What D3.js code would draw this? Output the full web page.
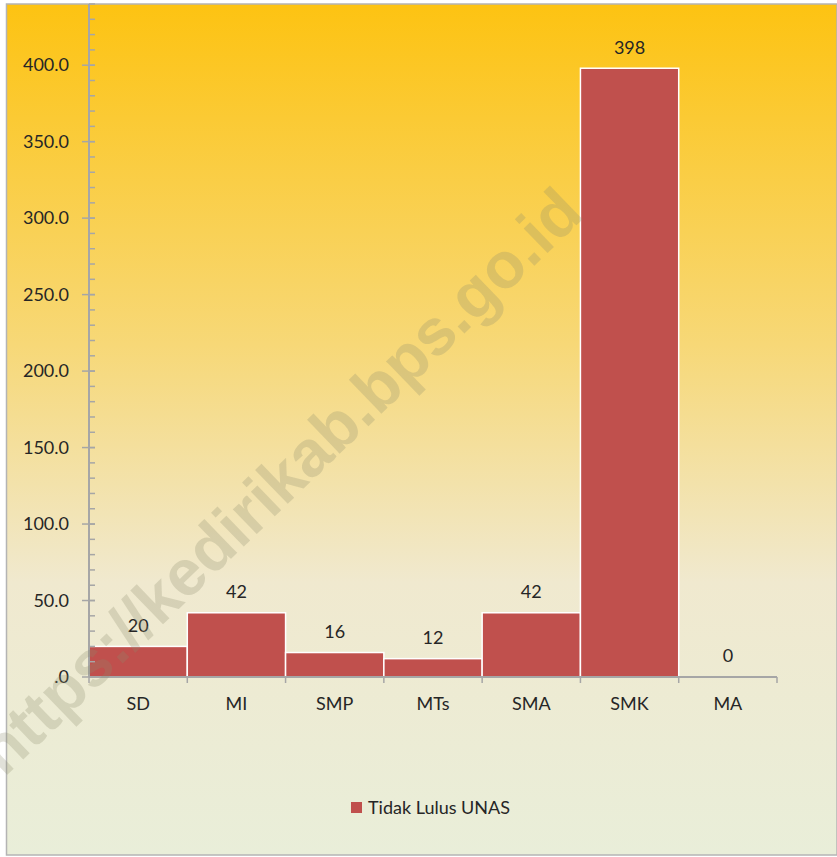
<!DOCTYPE html>
<html>
<head>
<meta charset="utf-8">
<script src="https://cdn.jsdelivr.net/npm/d3@7"></script>
<style>
  body { margin: 0; background: #fff; }
  svg { display: block; font-family: Lato, "Open Sans", sans-serif; }
</style>
</head>
<body>
<div id="corpo"></div>
<script>
// data
var categories = ["SD", "MI", "SMP", "MTs", "SMA", "SMK", "MA"];
var values = [20, 42, 16, 12, 42, 398, 0];
var yTicks = [0, 50, 100, 150, 200, 250, 300, 350, 400];
var seriesName = "Tidak Lulus UNAS";

var width = 837, height = 857;
var barColor = "#c0504d";
var axisColor = "#a6a6a6";
var fs = 18;

var svg = d3.select("#corpo").append("svg")
    .attr("width", width)
    .attr("height", height);

// background gradient
var grad = svg.append("defs").append("linearGradient")
    .attr("id", "bg").attr("x1", 0).attr("y1", 0).attr("x2", 0).attr("y2", 1);
grad.append("stop").attr("offset", "0%").attr("stop-color", "#fdc312");
grad.append("stop").attr("offset", "40%").attr("stop-color", "#f7d877");
grad.append("stop").attr("offset", "68%").attr("stop-color", "#f0e9cf");
grad.append("stop").attr("offset", "100%").attr("stop-color", "#e9eed9");

svg.append("rect")
    .attr("x", 6.5).attr("y", 4)
    .attr("width", width - 6.5).attr("height", height - 6)
    .attr("fill", "url(#bg)")
    .attr("stroke", "#b4b4b4").attr("stroke-width", 1.5);

var x0 = 89, x1 = 777, yTop = 4, yBase = 677;

var x = d3.scaleBand().domain(categories).range([x0, x1]).padding(0);
var y = d3.scaleLinear().domain([0, 440]).range([yBase, yTop]);

// bars
svg.selectAll(".bar")
    .data(values)
    .enter().append("rect")
    .attr("class", "bar")
    .attr("x", function(d, i) { return x(categories[i]); })
    .attr("y", function(d) { return y(d); })
    .attr("width", x.bandwidth())
    .attr("height", function(d) { return yBase - y(d); })
    .attr("fill", barColor)
    .attr("stroke", function(d) { return d > 0 ? "#fff" : "none"; })
    .attr("stroke-width", 1.5);

// value labels
svg.selectAll(".val")
    .data(values)
    .enter().append("text")
    .attr("class", "val")
    .attr("x", function(d, i) { return x(categories[i]) + x.bandwidth() / 2; })
    .attr("y", function(d) { return y(d) - 21; })
    .attr("dy", "0.35em")
    .attr("text-anchor", "middle")
    .attr("font-size", fs)
    .attr("fill", "#262626")
    .text(function(d) { return d; });

// y axis
var yMinor = d3.range(0, 441, 10);
svg.selectAll(".minor")
    .data(yMinor)
    .enter().append("line")
    .attr("x1", x0).attr("x2", x0 + 6)
    .attr("y1", function(d) { return y(d); })
    .attr("y2", function(d) { return y(d); })
    .attr("stroke", axisColor).attr("stroke-width", 1.5);

svg.selectAll(".major")
    .data(yTicks)
    .enter().append("line")
    .attr("x1", x0 - 7).attr("x2", x0 + 6)
    .attr("y1", function(d) { return y(d); })
    .attr("y2", function(d) { return y(d); })
    .attr("stroke", axisColor).attr("stroke-width", 1.5);

svg.selectAll(".ylab")
    .data(yTicks)
    .enter().append("text")
    .attr("x", x0 - 20)
    .attr("y", function(d) { return y(d); })
    .attr("dy", "0.35em")
    .attr("text-anchor", "end")
    .attr("font-size", fs)
    .attr("fill", "#262626")
    .text(function(d) { return d === 0 ? ".0" : d.toFixed(1); });

svg.append("line")
    .attr("x1", x0).attr("x2", x0)
    .attr("y1", yTop).attr("y2", yBase)
    .attr("stroke", axisColor).attr("stroke-width", 2);

// x axis
svg.append("line")
    .attr("x1", x0).attr("x2", x1)
    .attr("y1", yBase).attr("y2", yBase)
    .attr("stroke", axisColor).attr("stroke-width", 2);

var bounds = categories.map(function(c) { return x(c); }).concat([x1]);
svg.selectAll(".xtick")
    .data(bounds)
    .enter().append("line")
    .attr("x1", function(d) { return d; }).attr("x2", function(d) { return d; })
    .attr("y1", yBase).attr("y2", yBase + 6)
    .attr("stroke", axisColor).attr("stroke-width", 1.5);

svg.selectAll(".xlab")
    .data(categories)
    .enter().append("text")
    .attr("x", function(d) { return x(d) + x.bandwidth() / 2; })
    .attr("y", 704)
    .attr("dy", "0.35em")
    .attr("text-anchor", "middle")
    .attr("font-size", fs)
    .attr("fill", "#262626")
    .text(function(d) { return d; });

// legend
var lg = svg.append("g").attr("transform", "translate(351,802)");
lg.append("rect").attr("width", 11).attr("height", 11).attr("fill", barColor);
lg.append("text")
    .attr("x", 17).attr("y", 5.5).attr("dy", "0.35em")
    .attr("font-size", fs).attr("fill", "#262626")
    .text(seriesName);

// watermark, drawn over the bars
svg.append("text")
    .attr("transform", "translate(4,778) rotate(-44)")
    .attr("font-family", "Liberation Sans, Arial, sans-serif")
    .attr("font-weight", "bold")
    .attr("font-size", 65)
    .attr("fill", "rgba(140,140,110,0.26)")
    .text("https://kedirikab.bps.go.id");
</script>
</body>
</html>
